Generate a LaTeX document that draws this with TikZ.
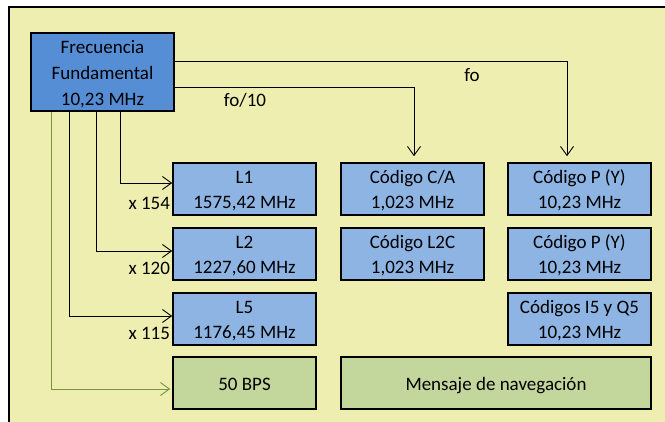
\documentclass[tikz,border=0pt]{standalone}
\usepackage{fontspec}
\setmainfont{Carlito}
\usetikzlibrary{arrows.meta,calc}
\definecolor{bgy}{RGB}{238,238,176}
\definecolor{mainblue}{RGB}{85,142,213}
\definecolor{lblue}{RGB}{141,180,226}
\definecolor{lgreen}{RGB}{195,214,155}
\definecolor{darrow}{RGB}{119,147,60}
\newcommand{\tS}{\rule{0pt}{18pt}}
\newcommand{\tM}{\rule{0pt}{19pt}}
\newcommand{\bS}{\rule[-3pt]{0pt}{3pt}}
\tikzset{
  every node/.style={font=\fontsize{19}{25}\selectfont, inner sep=0pt},
  boxbase/.style={draw=black, line width=1.6pt, align=center, minimum height=52pt, minimum width=143pt},
  bluebox/.style={boxbase, fill=lblue},
  greenbox/.style={boxbase, fill=lgreen},
  conn/.style={draw=black, line width=0.9pt, -{Straight Barb[length=9pt,width=13pt]}},
  gconn/.style={draw=darrow, line width=0.9pt, -{Straight Barb[length=9pt,width=13pt]}},
  lbl/.style={text=black}
}
\begin{document}
\begin{tikzpicture}[x=1pt,y=-1pt]
\useasboundingbox (0,0) rectangle (665,422);
\fill[bgy] (9,7) rectangle (665,422);
\draw[line width=2.2pt] (9,422) -- (9,7) -- (665,7);

\node[boxbase, fill=mainblue, minimum height=78pt, font=\fontsize{19}{26}\selectfont] (main) at (102.5,72) {\tM Frecuencia\\Fundamental\\10,23 MHz\bS};

\node[bluebox] (L1) at (244.5,189) {\tS L1\\1575,42 MHz\bS};
\node[bluebox] (L2) at (244.5,254) {\tS L2\\1227,60 MHz\bS};
\node[bluebox] (L5) at (244.5,319) {\tS L5\\1176,45 MHz\bS};
\node[greenbox] (bps) at (244.5,383) {\tS 50 BPS\bS};

\node[bluebox] (CA) at (412.5,189) {\tS Código C/A\\1,023 MHz\bS};
\node[bluebox] (L2C) at (412.5,254) {\tS Código L2C\\1,023 MHz\bS};

\node[bluebox] (P1) at (579.5,189) {\tS Código P (Y)\\10,23 MHz\bS};
\node[bluebox] (P2) at (579.5,254) {\tS Código P (Y)\\10,23 MHz\bS};
\node[bluebox] (I5) at (579.5,319) {\tS Códigos I5 y Q5\\10,23 MHz\bS};

\node[greenbox, minimum width=310pt] (nav) at (496,383) {\tS Mensaje de navegación\bS};

\node[lbl] (fo10) at (245,100) {fo/10};
\node[lbl] (fo) at (472,75) {fo};

\node[lbl, anchor=east] (x154) at ($(L1.west)+(-2,14)$) {x 154};
\node[lbl, anchor=east] (x120) at ($(L2.west)+(-2,14)$) {x 120};
\node[lbl, anchor=east] (x115) at ($(L5.west)+(-2,14)$) {x 115};

\draw[conn, shorten >=6pt] ([yshift=11pt]main.east) -| ([xshift=-12.5pt]P1.north);
\draw[conn, shorten >=6pt] ([yshift=-15pt]main.east) -| ([xshift=1.5pt]CA.north);

\draw[conn] ([xshift=17.5pt]main.south) |- ([yshift=6pt]L1.west);
\draw[conn] ([xshift=-6.5pt]main.south) |- ([yshift=3pt]L2.west);
\draw[conn] ([xshift=-33.5pt]main.south) |- ([yshift=3pt]L5.west);
\draw[gconn, shorten >=2pt] ([xshift=-51.5pt]main.south) |- ([yshift=-6pt]bps.west);
\end{tikzpicture}
\end{document}
